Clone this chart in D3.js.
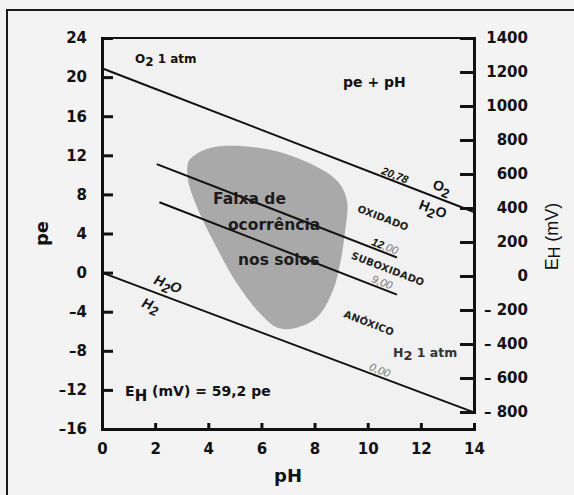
<!DOCTYPE html>
<html>
<head>
<meta charset="utf-8">
<script src="https://cdn.jsdelivr.net/npm/d3@7"></script>
<style>
  html, body { margin: 0; padding: 0; background: #f3f3f3; }
  svg { display: block; }
  text { font-family: "DejaVu Sans", sans-serif; fill: #111; }
</style>
</head>
<body>
<div id="chart"></div>
<script>
// pe axis (left), EH axis (right), pH axis (bottom)
const peTicks = [24, 20, 16, 12, 8, 4, 0, -4, -8, -12, -16];
const ehTicks = [1400, 1200, 1000, 800, 600, 400, 200, 0, -200, -400, -600, -800];
const phTicks = [0, 2, 4, 6, 8, 10, 12, 14];

// boundary lines [pH, pe]
const lineO2 = [[0, 20.9], [14, 6.2]];
const line12 = [[2.06, 11.1], [11.1, 1.55]];
const line9 = [[2.16, 7.2], [11.1, -2.25]];
const lineH2 = [[0, 0], [14, -14.3]];

// grey region "faixa de ocorrência nos solos" [pH, pe]
const soilRange = [
  [3.31, 11.6], [4.06, 12.75], [5.95, 12.75], [7.56, 11.5], [8.84, 9.41],
  [9.22, 7.36], [9.15, 4.29], [8.96, 0.92], [8.69, -1.84], [8.09, -4.6],
  [7.19, -5.73], [6.59, -5.62], [5.95, -4.19], [5.08, -1.12], [4.18, 3.27],
  [3.58, 6.65], [3.24, 9.41], [3.22, 11.0]
];

// labels along the lines [text, pH, pe]
const slopeLabels = [
  ['20,78', 11.03, 9.98],
  ['O2', 12.8, 8.76],
  ['H2O', 12.46, 6.51],
  ['OXIDADO', 10.58, 5.59],
  ['12,00', 10.65, 2.72],
  ['SUBOXIDADO', 10.76, 0.37],
  ['9,00', 10.54, -0.96],
  ['ANÓXICO', 10.05, -5.16],
  ['0,00', 10.46, -9.96],
  ['H2O', 2.48, -1.17],
  ['H2', 1.84, -3.31]
];

const width = 574;
const height = 495;

const x = d3.scaleLinear().domain([0, 14]).range([102, 474]);
const y = d3.scaleLinear().domain([-16, 24]).range([429, 38]);
const yEh = d3.scaleLinear().domain([-800, 1400]).range([412, 38]);

const svg = d3.select('#chart')
  .append('svg')
  .attr('width', width)
  .attr('height', height);

/* outer frame */
svg.append('path')
  .attr('d', `M7,${height + 5} V10 H${width + 5}`)
  .attr('fill', 'none')
  .attr('stroke', '#1a1a1a')
  .attr('stroke-width', 2);

/* plot background */
svg.append('rect')
  .attr('x', x(0)).attr('y', y(24))
  .attr('width', x(14) - x(0)).attr('height', y(-16) - y(24))
  .attr('fill', '#f1f1f1');

/* soil range blob */
svg.append('path')
  .datum(soilRange)
  .attr('d', d3.line().x(d => x(d[0])).y(d => y(d[1])).curve(d3.curveCatmullRomClosed.alpha(0.5)))
  .attr('fill', '#a9a9a9');

/* lines */
const line = d3.line().x(d => x(d[0])).y(d => y(d[1]));
[lineO2, line12, line9, lineH2].forEach(l => {
  svg.append('path')
    .attr('d', line(l))
    .attr('fill', 'none')
    .attr('stroke', '#111')
    .attr('stroke-width', 2);
});

/* axes */
const fontTick = '15px';
const xAxis = d3.axisBottom(x).tickValues(phTicks).tickSize(-6).tickPadding(14).tickFormat(d3.format('d'));
const yAxis = d3.axisLeft(y).tickValues(peTicks).tickSize(-11).tickPadding(15)
  .tickFormat(d => d < 0 ? '\u2013' + Math.abs(d) : d);
const ehAxis = d3.axisRight(yEh).tickValues(ehTicks).tickSize(-14).tickPadding(14)
  .tickFormat(d => d < 0 ? '\u2013 ' + Math.abs(d) : d);

function styleAxis(g) {
  g.select('.domain').attr('stroke', '#111').attr('stroke-width', 3);
  g.selectAll('.tick line').attr('stroke', '#111').attr('stroke-width', 3);
  g.selectAll('.tick text')
    .attr('fill', '#111')
    .style('font-family', '"DejaVu Sans", sans-serif')
    .style('font-weight', 'bold')
    .style('font-size', fontTick);
}

svg.append('g')
  .attr('transform', `translate(0,${y(-16)})`)
  .call(xAxis)
  .call(styleAxis)
  .call(g => g.selectAll('.tick').filter(d => d === 0 || d === 14).select('line').remove());

svg.append('g')
  .attr('transform', `translate(${x(0)},0)`)
  .call(yAxis)
  .call(styleAxis)
  .call(g => g.selectAll('.tick').filter(d => d === 24 || d === -16).select('line').remove());

svg.append('g')
  .attr('transform', `translate(${x(14)},0)`)
  .call(ehAxis)
  .call(styleAxis)
  .call(g => g.selectAll('.tick').filter(d => d === 1400).select('line').remove())
  .call(g => g.selectAll('.tick text').attr('text-anchor', 'end').attr('x', 54));

// top frame of plot
svg.append('line')
  .attr('x1', x(0)).attr('x2', x(14))
  .attr('y1', y(24)).attr('y2', y(24))
  .attr('stroke', '#111').attr('stroke-width', 2);

/* axis titles */
svg.append('text')
  .attr('x', (x(0) + x(14)) / 2).attr('y', 482)
  .attr('text-anchor', 'middle')
  .style('font-size', '18px').style('font-weight', 'bold')
  .text('pH');

svg.append('text')
  .attr('transform', `translate(48,${y(4)}) rotate(-90)`)
  .attr('text-anchor', 'middle')
  .style('font-size', '18px').style('font-weight', 'bold')
  .text('pe');

const ehTitle = svg.append('text')
  .attr('transform', `translate(558,${y(3.7)}) rotate(-90)`)
  .attr('text-anchor', 'middle')
  .style('font-family', '"Liberation Sans", sans-serif')
  .style('font-size', '18px');
ehTitle.append('tspan').text('E');
ehTitle.append('tspan').style('font-size', '16px').attr('dy', 2).text('H');
ehTitle.append('tspan').attr('dy', -2).text(' (mV)');

/* text with subscripts: a digit right after a capital letter is subscripted */
function richText(sel, str, subSize, shift) {
  const tokens = str.match(/[A-Z]\d|[^A-Z]+|[A-Z]/g);
  let back = 0;
  tokens.forEach(t => {
    if (/^[A-Z]\d$/.test(t)) {
      sel.append('tspan').attr('dy', back || null).text(t[0]);
      sel.append('tspan').attr('dy', shift).style('font-size', subSize).text(t[1]);
      back = -shift;
    } else {
      sel.append('tspan').attr('dy', back || null).text(t);
      back = 0;
    }
  });
}

/* flat labels */
const t1 = svg.append('text')
  .attr('x', x(1.24)).attr('y', y(21.4))
  .style('font-size', '12px').style('font-weight', 'bold');
richText(t1, 'O2 1 atm', '12px', 3);

svg.append('text')
  .attr('x', x(9.07)).attr('y', y(19.0))
  .style('font-size', '14px').style('font-weight', 'bold')
  .text('pe + pH');

const t2 = svg.append('text')
  .attr('x', x(10.95)).attr('y', y(-8.6))
  .style('font-size', '12.5px').style('font-weight', 'bold')
  .style('fill', '#333');
richText(t2, 'H2 1 atm', '13px', 3);

const t3 = svg.append('text')
  .attr('x', x(0.87)).attr('y', y(-12.6))
  .style('font-size', '14px').style('font-weight', 'bold');
t3.append('tspan').text('E');
t3.append('tspan').attr('dy', 5).style('font-size', '15px').text('H');
t3.append('tspan').attr('dy', -5).text('  (mV) = 59,2 pe');

/* text inside grey region */
[['Faixa de', 4.18, 7.0], ['ocorrência', 4.74, 4.36], ['nos solos', 5.12, 0.78]].forEach(d => {
  svg.append('text')
    .attr('x', x(d[1])).attr('y', y(d[2]))
    .style('font-size', '15.5px').style('font-weight', 'bold')
    .style('fill', '#1c1c1c')
    .text(d[0]);
});

/* labels along the slopes */
const angle = Math.atan2(y(lineO2[1][1]) - y(lineO2[0][1]), x(lineO2[1][0]) - x(lineO2[0][0])) * 180 / Math.PI;

slopeLabels.forEach(d => {
  const txt = d[0];
  const isNum = /,/.test(txt);
  const isWord = /^[A-ZÓ]{4,}$/.test(txt);
  const t = svg.append('text')
    .attr('transform', `translate(${x(d[1])},${y(d[2])}) rotate(${angle})`)
    .attr('text-anchor', 'middle')
    .attr('dominant-baseline', 'central')
    .style('font-family', '"Liberation Sans", sans-serif');
  if (isNum) {
    t.style('font-size', '11px').style('font-style', 'italic');
    const [a, b] = txt.split(',');
    const dark = txt === '20,78';
    t.append('tspan').style('font-weight', a === '12' || dark ? 'bold' : 'normal')
      .style('fill', a === '12' || dark ? '#111' : '#777').text(a);
    t.append('tspan').style('font-weight', dark ? 'bold' : 'normal')
      .style('fill', dark ? '#111' : '#777').text(',' + b);
  } else if (isWord) {
    t.style('font-size', '10px').style('font-weight', 'bold').style('fill', '#222')
      .style('font-family', '"DejaVu Sans", sans-serif')
      .style('letter-spacing', '0.2px')
      .text(txt);
  } else {
    t.style('font-size', '14px').style('font-weight', 'bold').style('fill', '#111');
    if (d[1] < 5) t.style('font-style', 'italic');
    richText(t, txt, '13px', 4);
  }
});
</script>
</body>
</html>
